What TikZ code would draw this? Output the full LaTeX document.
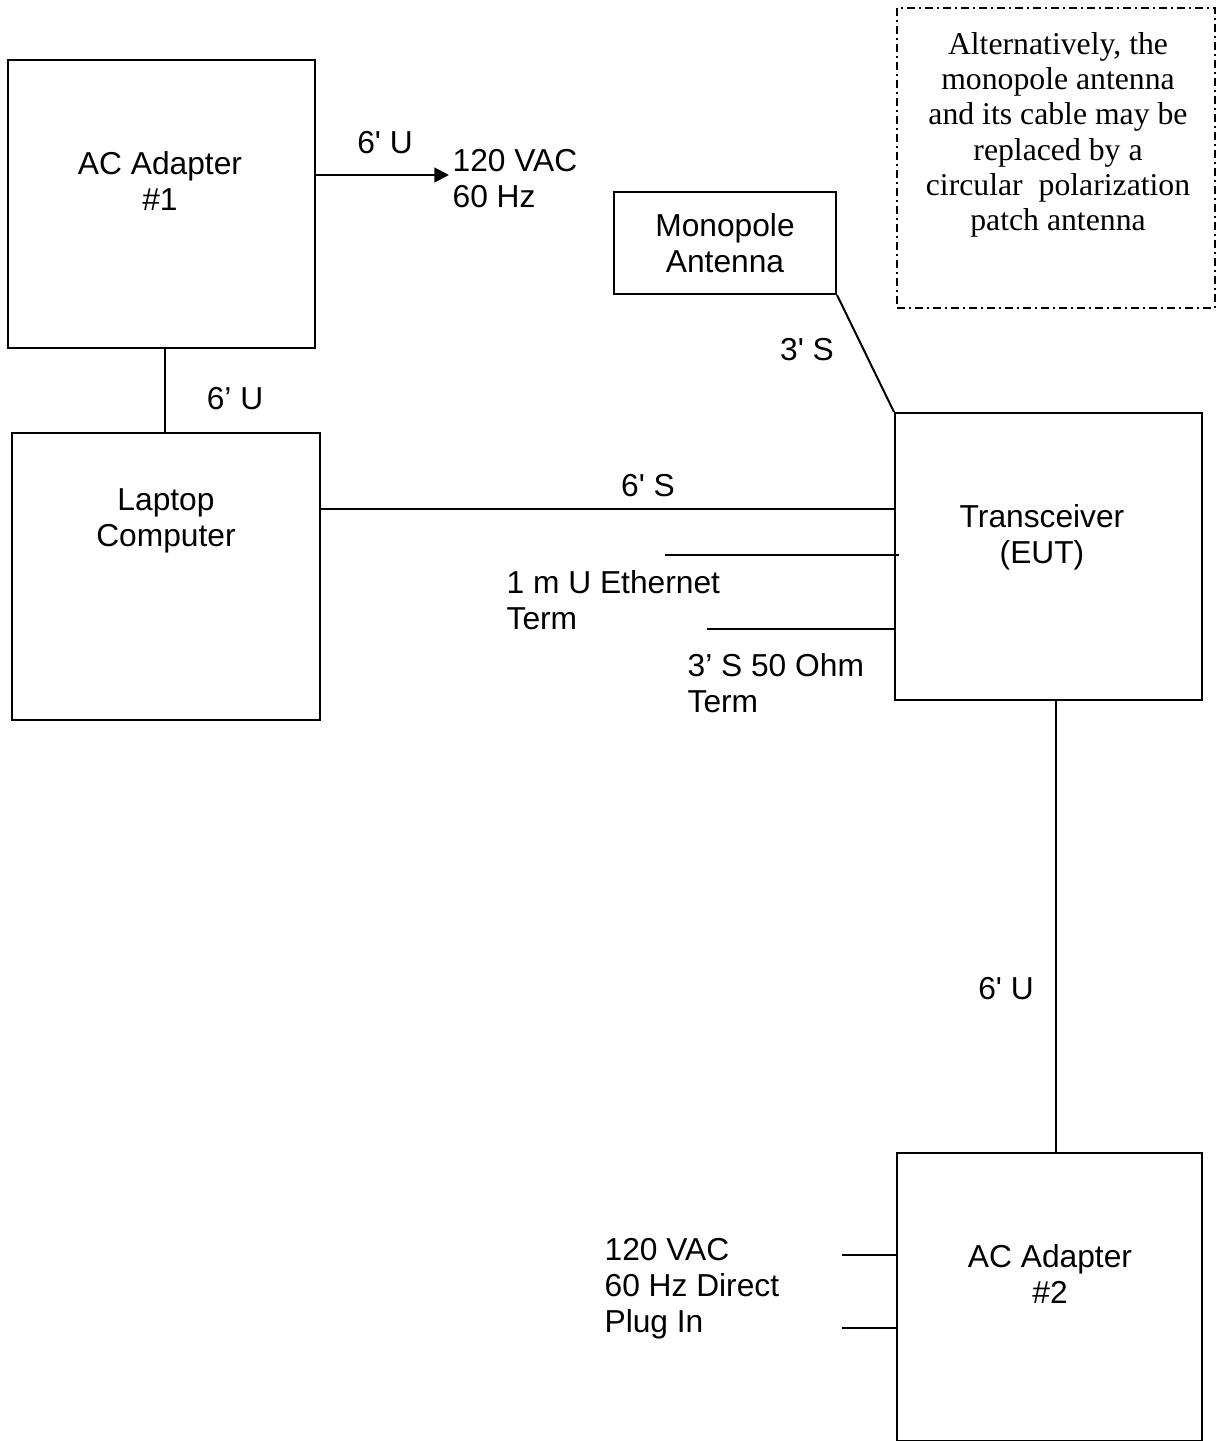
\documentclass[tikz,border=0pt]{standalone}
\usepackage{fontspec}
\setmainfont{Liberation Serif}
\setsansfont{Liberation Sans}
\usetikzlibrary{arrows.meta,calc}
\begin{document}
\begin{tikzpicture}[x=0.75pt,y=-0.75pt,
  box/.style={draw,line width=1.5pt,inner sep=0pt},
  wire/.style={line width=1.5pt},
  lbl/.style={font=\fontsize{23.8}{27}\selectfont\sffamily,inner sep=1pt},
  note/.style={font=\fontsize{23.8}{26.5}\selectfont\rmfamily,align=center,inner sep=0pt}]
\useasboundingbox (0,0) rectangle (1220,1441);
% boxes
\node[box,minimum width=307*0.75pt,minimum height=288*0.75pt] (ac1) at (161.5,204) {};
\node[box,minimum width=308*0.75pt,minimum height=287*0.75pt] (lap) at (166,576.5) {};
\node[box,lbl,align=center,minimum width=222*0.75pt,minimum height=102*0.75pt] (ant) at (725,243) {Monopole\\Antenna};
\node[box,minimum width=307*0.75pt,minimum height=287*0.75pt] (xcv) at (1048.5,556.5) {};
\node[box,minimum width=305*0.75pt,minimum height=288*0.75pt] (ac2) at (1049.5,1297) {};
\node[draw,line width=1pt,dash pattern=on 6pt off 3pt on 1.5pt off 3pt,inner sep=0pt,minimum width=318*0.75pt,minimum height=300*0.75pt] (notebox) at (1056,158) {};
% box texts
\node[lbl,align=center] (ac1t) at (160,181) {AC Adapter\\\#1};
\node[lbl,align=center] (lapt) at (166,521) {Laptop\\Computer};
\node[lbl,align=center] (xcvt) at (1042,537) {Transceiver\\(EUT)};
\node[lbl,align=center] (ac2t) at (1050,1274) {AC Adapter\\\#2};
\node[note] (notet) at (1058,135) {Alternatively, the\\monopole antenna\\and its cable may be\\replaced by a\\circular\ \ polarization\\patch antenna};
% labels
\node[lbl,align=left,anchor=west] (vac1) at (451,179) {120 VAC\\60 Hz};
\node[lbl] (l6u1) at (385,143) {6\textquotesingle{} U};
\node[lbl] (l6u2) at (235,399) {6’ U};
\node[lbl] (l6s) at (648,486) {6\textquotesingle{} S};
\node[lbl] (l3s) at (807,350) {3\textquotesingle{} S};
\node[lbl,align=left,anchor=west] (eth) at (505,600) {1 m U Ethernet\\Term};
\node[lbl,align=left,anchor=west] (ohm) at (686,683) {3’ S 50 Ohm\\Term};
\node[lbl] (l6u3) at (1006,989) {6\textquotesingle{} U};
\node[lbl,align=left,anchor=west] (vac2) at (603,1289) {120 VAC\\60 Hz Direct\\Plug In};
% connectors
\coordinate (vacin) at (449,175);
\draw[wire,-{Triangle[length=11pt,width=11pt]}] (ac1.east |- vacin) -- (vacin);
\draw[wire] ($(ac1.south)+(3.5,0)$) -- ($(lap.north)+(-1,0)$);
\coordinate (lapc) at ($(lap.north east)!0.268!(lap.south east)$);
\draw[wire] (lapc) -- (lapc -| xcv.west);
\draw[wire] (ant.south east) -- (xcv.north west);
\coordinate (ethe) at (665,555);
\draw[wire] (ethe) -- ($(ethe -| xcv.west)+(5,0)$);
\coordinate (ohme) at (707,629);
\draw[wire] (ohme) -- (ohme -| xcv.west);
\draw[wire] ($(xcv.south)+(7.5,0)$) -- ($(ac2.north)+(6.5,0)$);
\coordinate (p1) at (842,1255);
\coordinate (p2) at (842,1328);
\draw[wire] (p1) -- (p1 -| ac2.west);
\draw[wire] (p2) -- (p2 -| ac2.west);
\end{tikzpicture}
\end{document}
